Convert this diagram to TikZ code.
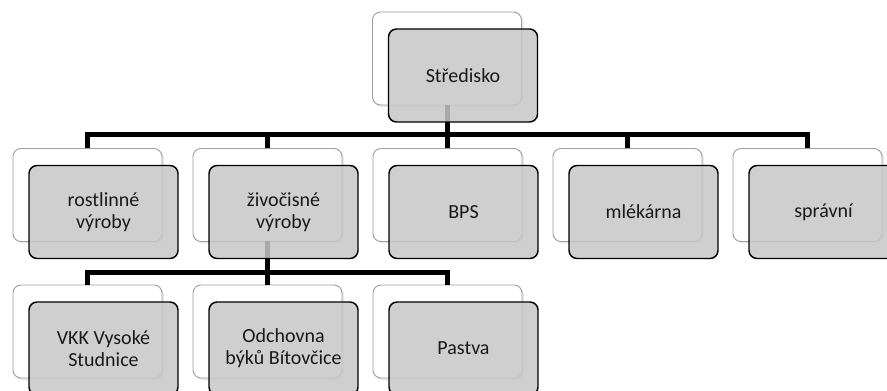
\documentclass[tikz,border=0pt]{standalone}
\usepackage{fontspec}
\setmainfont{Carlito}
\usetikzlibrary{shadows}
\tikzset{
  back/.style={draw=black!38, line width=0.7pt, fill=white, rounded corners=6pt,
    minimum width=111.75pt, minimum height=69.75pt, outer sep=0pt,
    drop shadow={opacity=0.18, shadow xshift=1.5pt, shadow yshift=-1.5pt}},
  front/.style={draw=black, line width=1.1pt, fill=black!22, fill opacity=0.85,
    text opacity=1, text=black!90, rounded corners=6pt, align=center,
    minimum width=111.75pt, minimum height=69.75pt, outer sep=0pt,
    font=\fontsize{15}{16.5}\selectfont},
  conn/.style={line width=3.75pt, black},
}
\begin{document}
\begin{tikzpicture}[x=0.75pt, y=-0.75pt]
    \useasboundingbox (0,0) rectangle (887,391);

    % back boxes
    \node[back] (sb) at (447,58.5) {};
    \node[back] (rb) at (87.5,195) {};
    \node[back] (zb) at (267.5,195) {};
    \node[back] (bb) at (447.5,195) {};
    \node[back] (mb) at (627.5,195) {};
    \node[back] (pb) at (807.5,195) {};
    \node[back] (vb) at (87.5,331.5) {};
    \node[back] (ob) at (267.5,331.5) {};
    \node[back] (tb) at (447.5,331.5) {};

    % connectors
    \draw[conn] (sb.south) -- ++(0,30) -| (rb.north)
      (sb.south) -- ++(0,30) -| (zb.north)
      (sb.south) -- ++(0,30) -| (bb.north)
      (sb.south) -- ++(0,30) -| (mb.north)
      (sb.south) -- ++(0,30) -| (pb.north);
    \draw[conn] (zb.south) -- ++(0,31) -| (vb.north)
      (zb.south) -- ++(0,31) -| (ob.north)
      (zb.south) -- ++(0,31) -| (tb.north);

    % front boxes
    \node[front] (s) at (463,75.5) {Středisko};
    \node[front] (r) at (103.5,212) {rostlinné\\výroby};
    \node[front] (z) at (283.5,212) {živočisné\\výroby};
    \node[front] (b) at (463.5,212) {BPS};
    \node[front] (m) at (643.5,212) {mlékárna};
    \node[front] (p) at (823.5,212) {správní};
    \node[front] (v) at (103.5,348.5) {VKK Vysoké\\Studnice};
    \node[front] (o) at (283.5,348.5) {Odchovna\\býků Bítovčice};
    \node[front] (t) at (463.5,348.5) {Pastva};
\end{tikzpicture}
\end{document}
